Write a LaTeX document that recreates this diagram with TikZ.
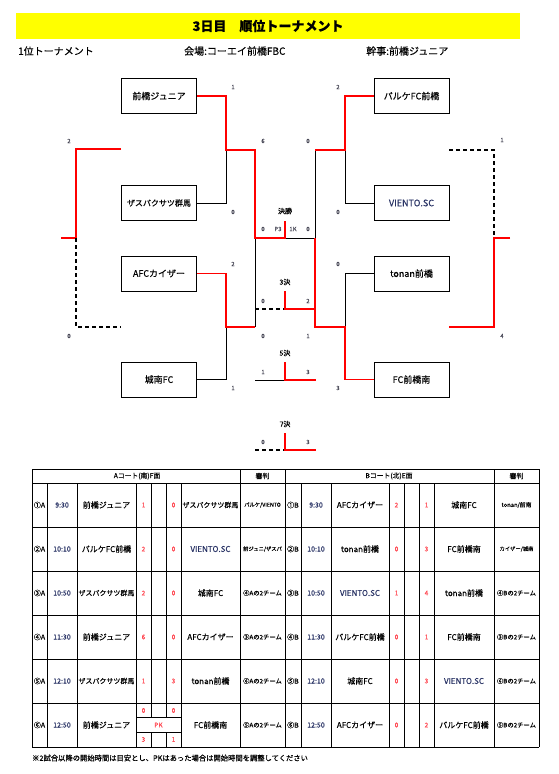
\documentclass[tikz,border=0pt]{standalone}
\usepackage{fontspec}
\setmainfont{Noto Sans CJK JP}[FakeBold=0.4]
\usetikzlibrary{positioning}
\definecolor{titleyellow}{RGB}{255,255,0}
\definecolor{scorered}{RGB}{255,70,80}
\definecolor{navytext}{RGB}{40,50,100}
\definecolor{numgray}{RGB}{70,70,85}
\newcommand{\fsz}[1]{\fontsize{#1}{#1}\selectfont}

\begin{document}
\begin{tikzpicture}[x=1pt, y=-1pt,
  team/.style={
    draw, line width=0.8pt,
    minimum width=75pt, minimum height=35pt,
    inner sep=0pt, font=\fsz{9}
  },
  win/.style={draw=red, line width=1.4pt},
  lose/.style={draw=black, line width=0.7pt},
  nogame/.style={draw=black, line width=1.3pt, dash pattern=on 4pt off 3pt},
  pt/.style={font=\fsz{6}, text=numgray, inner sep=0pt},
  rnd/.style={font=\fsz{7}, inner sep=0pt},
  grid/.style={draw=black, line width=0.8pt},
  cell/.style={font=\fsz{8}, inner sep=0pt},
  sc/.style={font=\fsz{6.5}, text=scorered, inner sep=0pt},
  ref/.style={font=\fsz{6.3}, inner sep=0pt}]

\useasboundingbox (0,0) rectangle (559,774);

% Title bar and header line
\fill[titleyellow] (16,13) rectangle (520,39);
\node[font=\fsz{13}\bfseries] (title) at (268,26) {3日目　順位トーナメント};
\node[font=\fsz{10}, anchor=west, inner sep=0pt] (sub1) at (18,51) {1位トーナメント};
\node[font=\fsz{10}, anchor=west, inner sep=0pt] (sub2) at (184,51) {会場:コーエイ前橋FBC};
\node[font=\fsz{10}, anchor=west, inner sep=0pt] (sub3) at (366,51) {幹事:前橋ジュニア};

% Team boxes
\node[team] (mj) at (159,96) {前橋ジュニア};
\node[team, font=\fsz{8}] (zs) at (159,203) {ザスパクサツ群馬};
\node[team] (ak) at (159,273.5) {AFCカイザー};
\node[team] (jn) at (159,379.5) {城南FC};
\node[team] (pk) at (411.5,96) {パルケFC前橋};
\node[team, text=navytext] (vi) at (411.5,203) {VIENTO.SC};
\node[team] (tn) at (411.5,273.5) {tonan前橋};
\node[team] (fm) at (411.5,379.5) {FC前橋南};

% Junctions
\coordinate (qa) at (226,150);
\coordinate (qb) at (226,327);
\coordinate (qc) at (345,150);
\coordinate (qd) at (345,327);
\coordinate (sa) at (255,150);
\coordinate (sb) at (255,327);
\coordinate (sc) at (315,150);
\coordinate (sd) at (315,327);
\coordinate (fa) at (255,238);
\coordinate (fb) at (315,238);
\coordinate (fc) at (285,238);
\coordinate (ft) at (285,221);

% Lost paths
\draw[lose] (zs.east) -| (qa);
\draw[lose] (jn.east) -| (qb);
\draw[lose] (vi.west) -| (qc);
\draw[lose] (tn.west) -| (qd);
\draw[lose] (sb) -- (fa);
\draw[lose] (sc) -- (fb) -- (fc);

% Won paths
\draw[win] (mj.east) -| (qa) -- (sa) -- (fa) -- (fc) -- (ft);
\draw[win] (ak.east) -| (qb) -- (sb);
\draw[win] (pk.west) -| (qc) -- (sc);
\draw[win] (fm.west) -| (qd) -- (sd) -- (fb);

% Placing matches
\coordinate (ta) at (255,309);
\coordinate (tb) at (285,309);
\coordinate (tc) at (315,309);
\coordinate (tt) at (285,291);
\draw[nogame] (ta) -- (tb);
\draw[win] (tt) -- (tb) -- (tc);

\coordinate (ua) at (255,380);
\coordinate (ub) at (285,380);
\coordinate (uc) at (316,380);
\coordinate (ut) at (285,362);
\draw[lose] (ua) -- (ub);
\draw[win] (ut) -- (ub) -- (uc);

\coordinate (va) at (255,450);
\coordinate (vb) at (285,450);
\coordinate (vc) at (316,450);
\coordinate (vt) at (285,433);
\draw[nogame] (va) -- (vb);
\draw[win] (vt) -- (vb) -- (vc);

% Outer brackets
\coordinate (la) at (121,149);
\coordinate (lb) at (76,149);
\coordinate (lc) at (76,238);
\coordinate (ld) at (61,238);
\coordinate (le) at (76,327);
\coordinate (lf) at (121,327);
\draw[win] (la) -- (lb) -- (lc) -- (ld);
\draw[nogame] (lc) -- (le) -- (lf);

\coordinate (ra) at (449,150);
\coordinate (rb) at (494,150);
\coordinate (rc) at (494,238);
\coordinate (rd) at (510,238);
\coordinate (re) at (494,327);
\coordinate (rf) at (449,327);
\draw[nogame] (ra) -- (rb) -- (rc);
\draw[win] (rd) -- (rc) -- (re) -- (rf);

% Round labels
\node[rnd] (fin) at (285,211) {決勝};
\node[rnd] (third) at (285,282) {3決};
\node[rnd] (fifth) at (285,353) {5決};
\node[rnd] (seventh) at (285,424) {7決};

% Scores
\foreach \x/\y/\t [count=\k] in {
  233/87/1, 263/141/6, 233/212/0, 263/229/0, 69/141/2,
  233/264/2, 263/301/0, 263/336/0, 263/372/1, 233/388/1,
  263/442/0, 69/336/0, 338/87/2, 308/141/0, 278/229/P3,
  293/229/1K, 308/229/0, 338/212/0, 502/140/1, 338/264/0,
  308/301/2, 308/336/1, 502/336/4, 308/372/3, 338/388/3,
  308/442/3}
  \node[pt] (p\k) at (\x,\y) {\t};

% Schedule table
\foreach \y in {469,483,527,571,615,659,703,747}
  \draw[grid] (32,\y) -- (539,\y);
\foreach \x in {32,240,285,494,539}
  \draw[grid] (\x,469) -- (\x,747);
\foreach \x in {47,77,136,181,301,331,389,404,419,434}
  \draw[grid] (\x,483) -- (\x,747);
\foreach \x in {151,166} {
  \draw[grid] (\x,483) -- (\x,717.7);
  \draw[grid] (\x,732.3) -- (\x,747);
}
\draw[grid] (136,717.7) -- (181,717.7);
\draw[grid] (136,732.3) -- (181,732.3);

\node[font=\fsz{6.8}] (hda) at (137,476) {Aコート(南)F面};
\node[font=\fsz{7}] (hra) at (262.5,476) {審判};
\node[font=\fsz{6.8}] (hdb) at (389,476) {Bコート(北)E面};
\node[font=\fsz{7}] (hrb) at (516.5,476) {審判};

% A court, games 1-5
\foreach \n/\c/\t/\h/\s/\g/\a/\r in {
  1/①A/9:30/前橋ジュニア/1/0/{\fsz{7}ザスパクサツ群馬}/{\fsz{5.3}パルケ/VIENTO},
  2/②A/10:10/パルケFC前橋/2/0/{\color{navytext}VIENTO.SC}/{\fsz{5.3}前ジュニ/ザスパ},
  3/③A/10:50/{\fsz{7}ザスパクサツ群馬}/2/0/城南FC/④Aの2チーム,
  4/④A/11:30/前橋ジュニア/6/0/AFCカイザー/③Aの2チーム,
  5/⑤A/12:10/{\fsz{7}ザスパクサツ群馬}/1/3/tonan前橋/⑥Aの2チーム} {
  \pgfmathsetmacro{\yy}{461+44*\n}
  \node[cell, font=\fsz{7}] (ac\n) at (39.5,\yy) {\c};
  \node[cell, font=\fsz{7}, text=navytext] (at\n) at (62,\yy) {\t};
  \node[cell] (ah\n) at (106.5,\yy) {\h};
  \node[sc] (as\n) at (143.5,\yy) {\s};
  \node[sc] (ag\n) at (173.5,\yy) {\g};
  \node[cell] (aa\n) at (210.5,\yy) {\a};
  \node[ref] (ar\n) at (262.5,\yy) {\r};
}

% A court, game 6 (PK)
\node[cell, font=\fsz{7}] (ac6) at (39.5,725) {⑥A};
\node[cell, font=\fsz{7}, text=navytext] (at6) at (62,725) {12:50};
\node[cell] (ah6) at (106.5,725) {前橋ジュニア};
\node[sc] (as6) at (143.5,710.5) {0};
\node[sc] (ag6) at (173.5,710.5) {0};
\node[sc] (apk) at (158.5,725) {PK};
\node[sc] (ap6) at (143.5,739.5) {3};
\node[sc] (aq6) at (173.5,739.5) {1};
\node[cell] (aa6) at (210.5,725) {FC前橋南};
\node[ref] (ar6) at (262.5,725) {⑤Aの2チーム};

% B court
\foreach \n/\c/\t/\h/\s/\g/\a/\r in {
  1/①B/9:30/AFCカイザー/2/1/城南FC/{\fsz{5.8}tonan/前南},
  2/②B/10:10/tonan前橋/0/3/FC前橋南/{\fsz{5.3}カイザー/城南},
  3/③B/10:50/{\color{navytext}VIENTO.SC}/1/4/tonan前橋/④Bの2チーム,
  4/④B/11:30/パルケFC前橋/0/1/FC前橋南/③Bの2チーム,
  5/⑤B/12:10/城南FC/0/3/{\color{navytext}VIENTO.SC}/⑥Bの2チーム,
  6/⑥B/12:50/AFCカイザー/0/2/パルケFC前橋/⑤Bの2チーム} {
  \pgfmathsetmacro{\yy}{461+44*\n}
  \node[cell, font=\fsz{7}] (bc\n) at (293,\yy) {\c};
  \node[cell, font=\fsz{7}, text=navytext] (bt\n) at (316,\yy) {\t};
  \node[cell] (bh\n) at (360,\yy) {\h};
  \node[sc] (bs\n) at (396.5,\yy) {\s};
  \node[sc] (bg\n) at (426.5,\yy) {\g};
  \node[cell] (ba\n) at (464,\yy) {\a};
  \node[ref] (br\n) at (516.5,\yy) {\r};
}

% Footnote
\node[font=\fsz{7.3}, anchor=west, inner sep=0pt] (note) at (32,758)
  {※2試合以降の開始時間は目安とし、PKはあった場合は開始時間を調整してください};

\end{tikzpicture}
\end{document}
